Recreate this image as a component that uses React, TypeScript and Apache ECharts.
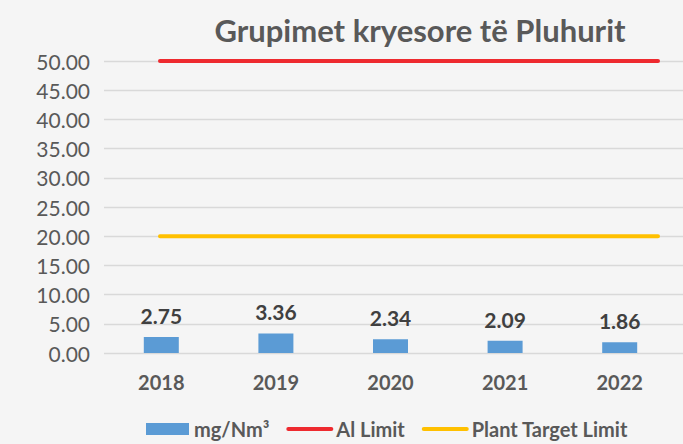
import React, { useEffect, useRef } from "react";
import * as echarts from "echarts";

const categories = ["2018", "2019", "2020", "2021", "2022"];
const dustValues = [2.75, 3.36, 2.34, 2.09, 1.86];
const alLimit = [50, 50, 50, 50, 50];
const plantTarget = [20, 20, 20, 20, 20];
const yTicks = { min: 0, max: 50, interval: 5 };

const FONT = "Lato, 'Noto Sans', sans-serif";

export default function App() {
  const ref = useRef<HTMLDivElement>(null);
  useEffect(() => {
    document.body.style.margin = "0";
    const chart = echarts.init(ref.current!, null, { renderer: "svg" });
    const top = 61;
    const bottom = 91;
    chart.setOption({
      animation: false,
      backgroundColor: "#f5f5f5",
      textStyle: { fontFamily: FONT },
      title: {
        text: "Grupimet kryesore të Pluhurit",
        left: 415,
        textAlign: "center",
        top: 9,
        textStyle: { fontFamily: FONT, fontSize: 31, fontWeight: "bold", color: "#595959" },
      },
      legend: {
        left: 141,
        top: 414,
        itemWidth: 43,
        itemHeight: 12,
        itemGap: 17,
        textStyle: { fontFamily: FONT, fontSize: 20, fontWeight: "bold", color: "#595959" },
        data: [
          { name: "mg/Nm³", icon: "rect" },
          { name: "Al Limit", itemStyle: { opacity: 0 }, lineStyle: { width: 4 } },
          { name: "Plant Target Limit", itemStyle: { opacity: 0 }, lineStyle: { width: 4 } },
        ],
      },
      grid: [
        { left: 104, right: 6, top, bottom },
        { left: 160, right: 25, top, bottom },
        { left: 104, right: 0, top, bottom },
      ],
      xAxis: [
        {
          type: "category",
          gridIndex: 0,
          data: categories,
          axisLine: { show: false },
          axisTick: { show: false },
          axisLabel: { fontFamily: FONT, fontSize: 20, color: "#595959", margin: 19, fontWeight: "bold" },
        },
        {
          type: "category",
          gridIndex: 1,
          data: categories,
          boundaryGap: false,
          show: false,
        },
        {
          type: "category",
          gridIndex: 2,
          data: categories,
          show: false,
        },
      ],
      yAxis: [
        {
          type: "value",
          gridIndex: 0,
          ...yTicks,
          splitLine: { show: false },
          axisLine: { show: false },
          axisTick: { show: false },
          axisLabel: {
            fontFamily: FONT,
            fontSize: 21,
            color: "#595959",
            margin: 14,
            formatter: (v: number) => v.toFixed(2),
          },
        },
        { type: "value", gridIndex: 1, ...yTicks, show: false },
        {
          type: "value",
          gridIndex: 2,
          ...yTicks,
          axisLine: { show: false },
          axisTick: { show: false },
          axisLabel: { show: false },
          splitLine: { show: true, lineStyle: { color: "#d9d9d9", width: 1.3 } },
        },
      ],
      series: [
        {
          name: "mg/Nm³",
          type: "bar",
          xAxisIndex: 0,
          yAxisIndex: 0,
          data: dustValues,
          barWidth: 35,
          itemStyle: { color: "#5b9bd5" },
          z: 3,
          label: {
            show: true,
            position: "top",
            distance: 11,
            fontFamily: FONT,
            fontSize: 21,
            fontWeight: "bold",
            color: "#404040",
            formatter: (p: any) => p.value.toFixed(2),
          },
        },
        {
          name: "Al Limit",
          type: "line",
          xAxisIndex: 1,
          yAxisIndex: 1,
          data: alLimit,
          symbol: "none",
          lineStyle: { color: "#ee2a2f", width: 4, cap: "round" },
          itemStyle: { color: "#ee2a2f" },
          z: 4,
        },
        {
          name: "Plant Target Limit",
          type: "line",
          xAxisIndex: 1,
          yAxisIndex: 1,
          data: plantTarget,
          symbol: "none",
          lineStyle: { color: "#ffc000", width: 4, cap: "round" },
          itemStyle: { color: "#ffc000" },
          z: 4,
        },
      ],
    });
    return () => chart.dispose();
  }, []);
  return <div ref={ref} style={{ width: 683, height: 444 }} />;
}
